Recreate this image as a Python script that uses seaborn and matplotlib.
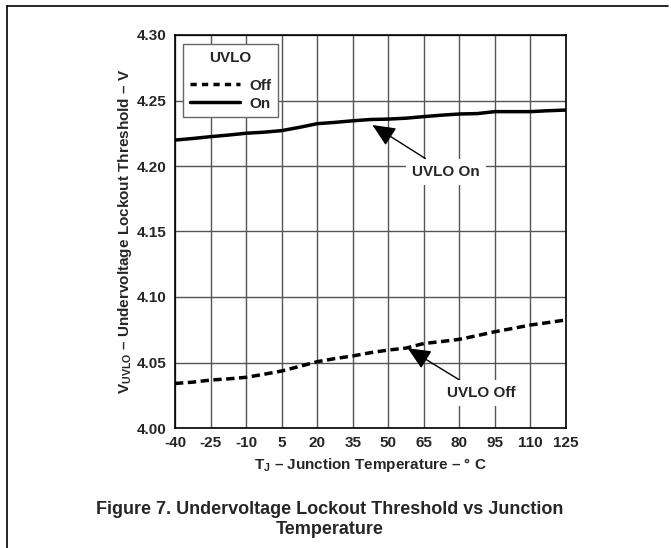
import matplotlib
matplotlib.use("Agg")
import matplotlib.pyplot as plt
from matplotlib.lines import Line2D
import seaborn as sns
import pandas as pd

# ---- data ----
temps = [-40, -32.5, -25, -17.5, -10, -2.5, 5, 12.5, 20, 27.5, 35, 42.5,
         50, 57.5, 65, 72.5, 80, 87.5, 95, 102.5, 110, 117.5, 125]
uvlo_on = [4.2198, 4.2210, 4.2224, 4.2236, 4.2250, 4.2258, 4.2270, 4.2295,
           4.2323, 4.2333, 4.2345, 4.2355, 4.2358, 4.2365, 4.2377, 4.2388,
           4.2397, 4.2400, 4.2415, 4.2415, 4.2415, 4.2422, 4.2427]
uvlo_off = [4.0340, 4.0350, 4.0366, 4.0375, 4.0387, 4.0410, 4.0435, 4.0470,
            4.0506, 4.0530, 4.0550, 4.0575, 4.0595, 4.0610, 4.0645, 4.0660,
            4.0677, 4.0705, 4.0735, 4.0760, 4.0786, 4.0805, 4.0825]
xticks = [-40, -25, -10, 5, 20, 35, 50, 65, 80, 95, 110, 125]
yticks = [4.00, 4.05, 4.10, 4.15, 4.20, 4.25, 4.30]
ytick_labels = ["4.00", "4.05", "4.10", "4.15", "4.20", "4.25", "4.30"]

df_on = pd.DataFrame({"T": temps, "V": uvlo_on})
df_off = pd.DataFrame({"T": temps, "V": uvlo_off})

sns.set_style("white")
plt.rcParams["font.family"] = ["Liberation Sans", "DejaVu Sans"]
plt.rcParams["font.weight"] = "bold"
plt.rcParams["mathtext.fontset"] = "custom"
plt.rcParams["mathtext.rm"] = "Liberation Sans:bold"
plt.rcParams["mathtext.it"] = "Liberation Sans:bold"
plt.rcParams["mathtext.bf"] = "Liberation Sans:bold"

W, H = 671, 548
fig = plt.figure(figsize=(W / 100, H / 100), dpi=100)
L, R, T, B = 175, 566, 35, 428
ax = fig.add_axes([L / W, (H - B) / H, (R - L) / W, (B - T) / H])

sns.lineplot(data=df_off, x="T", y="V", ax=ax, color="black", lw=2.5,
             linestyle=(0, (2.4, 1.3)), zorder=3)
sns.lineplot(data=df_on, x="T", y="V", ax=ax, color="black", lw=2.5,
             linestyle="-", zorder=3)

ax.set_xlim(-40, 125)
ax.set_ylim(4.00, 4.30)
ax.set_xticks(xticks)
ax.set_xticklabels([str(t) for t in xticks])
ax.set_yticks(yticks)
ax.set_yticklabels(ytick_labels)
ax.tick_params(length=0, labelsize=11, pad=6)
for lab in ax.get_xticklabels() + ax.get_yticklabels():
    lab.set_fontweight("bold")

ax.grid(True, color="#555555", lw=1.0)
ax.set_axisbelow(True)
for s in ax.spines.values():
    s.set_color("black")
    s.set_linewidth(1.2)
    s.set_visible(True)

ax.set_xlabel(r"$\mathrm{T}_{\mathrm{J}}$ – Junction Temperature – ° C",
              fontsize=11, fontweight="bold", labelpad=4)
ax.set_ylabel(r"$\mathrm{V}_{\mathrm{UVLO}}$ – Undervoltage Lockout Threshold – V",
              fontsize=11, fontweight="bold", labelpad=2)

handles = [Line2D([], [], color="black", lw=2.5, linestyle=(0, (1.8, 1.5))),
           Line2D([], [], color="black", lw=2.5, linestyle="-")]
leg = ax.legend(handles, ["Off", "On"], title="UVLO", loc="upper left",
                bbox_to_anchor=(0.0205, 0.977), borderaxespad=0,
                fancybox=False, framealpha=1, edgecolor="#666666",
                fontsize=11, title_fontsize=11, handlelength=3.3,
                handletextpad=0.6, labelspacing=0.25, borderpad=0.45)
leg.get_title().set_fontweight("bold")
leg.get_frame().set_linewidth(1.0)
leg._legend_box.sep = 10

bbox = dict(boxstyle="square,pad=0.4", fc="white", ec="none")
arrow = dict(arrowstyle="-|>,head_length=1.0,head_width=0.45",
             color="black", lw=1.0, shrinkA=0, shrinkB=0, mutation_scale=14)
ax.annotate("UVLO On", xy=(43.3, 4.2313), xytext=(74.4, 4.1957),
            fontsize=11, fontweight="bold", ha="center", va="center",
            bbox=bbox, zorder=4, arrowprops=arrow)
ax.annotate("UVLO Off", xy=(58.2, 4.0609), xytext=(89.2, 4.0265),
            fontsize=11, fontweight="bold", ha="center", va="center",
            bbox=bbox, zorder=4, arrowprops=arrow)

# frame around figure (top and left edges)
fig.add_artist(Line2D([7 / W, 668 / W], [1 - 6 / H, 1 - 6 / H],
                      transform=fig.transFigure, color="black", lw=1.2))
fig.add_artist(Line2D([7 / W, 7 / W], [1 - 6 / H, 0],
                      transform=fig.transFigure, color="black", lw=1.2))

fig.text(330 / W, 1 - 509 / H,
         "Figure 7. Undervoltage Lockout Threshold vs Junction",
         ha="center", va="center", fontsize=13, fontweight="bold")
fig.text(330 / W, 1 - 530 / H, "Temperature",
         ha="center", va="center", fontsize=13, fontweight="bold")

fig.savefig("out.png", dpi=100)
